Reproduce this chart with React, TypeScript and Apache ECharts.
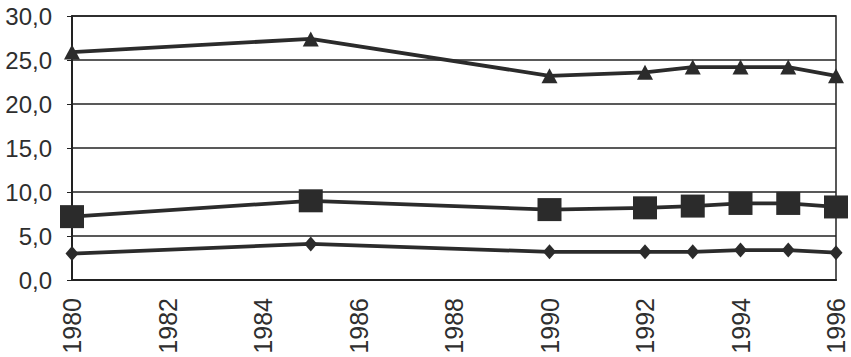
import React, { useEffect, useRef } from "react";
import * as echarts from "echarts";

const years = [1980, 1985, 1990, 1992, 1993, 1994, 1995, 1996];
const triangleValues = [25.9, 27.4, 23.2, 23.6, 24.2, 24.2, 24.2, 23.2];
const squareValues = [7.2, 9.0, 8.0, 8.2, 8.4, 8.7, 8.7, 8.3];
const diamondValues = [3.0, 4.1, 3.2, 3.2, 3.2, 3.4, 3.4, 3.1];

const yMin = 0;
const yMax = 30;
const yInterval = 5;
const xMin = 1980;
const xMax = 1996;
const xInterval = 2;

const toPairs = (vals: number[]) => years.map((y, i) => [y, vals[i]]);

const lineColor = "#2b2b2b";
const textColor = "#2e2e2e";
const fontFamily = "Liberation Sans";

export default function App() {
  const ref = useRef<HTMLDivElement>(null);
  useEffect(() => {
    if (!ref.current) return;
    const chart = echarts.init(ref.current, undefined, { renderer: "svg" });
    const mkSeries = (vals: number[], symbol: string, size: number | number[]) => ({
      type: "line",
      data: toPairs(vals),
      symbol,
      symbolSize: size,
      showSymbol: true,
      lineStyle: { color: lineColor, width: 3.8 },
      itemStyle: { color: lineColor, borderWidth: 0 },
      z: 3,
    });
    chart.setOption({
      animation: false,
      backgroundColor: "#ffffff",
      grid: {
        left: 72,
        right: 15,
        top: 16,
        bottom: 77,
        show: true,
        borderColor: "#222",
        borderWidth: 1.5,
        backgroundColor: "transparent",
      },
      xAxis: {
        type: "value",
        min: xMin,
        max: xMax,
        interval: xInterval,
        axisLine: { show: true, lineStyle: { color: "#222", width: 2 } },
        axisTick: { show: false },
        splitLine: { show: false },
        axisLabel: {
          rotate: 90,
          margin: 18,
          fontSize: 25,
          fontFamily,
          color: textColor,
          formatter: (v: number) => String(v),
        },
      },
      yAxis: {
        type: "value",
        min: yMin,
        max: yMax,
        interval: yInterval,
        axisLine: { show: true, lineStyle: { color: "#222", width: 2 } },
        axisTick: { show: true, length: 5, lineStyle: { color: "#222", width: 1 } },
        splitLine: { show: true, lineStyle: { color: "#222", width: 1.5 } },
        axisLabel: {
          margin: 20,
          fontSize: 24,
          fontFamily,
          color: textColor,
          padding: [0, 0, 10, 0],
          formatter: (v: number) => v.toFixed(1).replace(".", ","),
        },
      },
      series: [
        mkSeries(triangleValues, "triangle", [16, 15]),
        mkSeries(squareValues, "rect", [24, 23]),
        mkSeries(diamondValues, "diamond", [13, 15]),
      ],
    });
    return () => chart.dispose();
  }, []);
  return (
    <div
      ref={ref}
      style={{ position: "fixed", left: 0, top: 0, width: 851, height: 357, background: "#fff" }}
    />
  );
}
